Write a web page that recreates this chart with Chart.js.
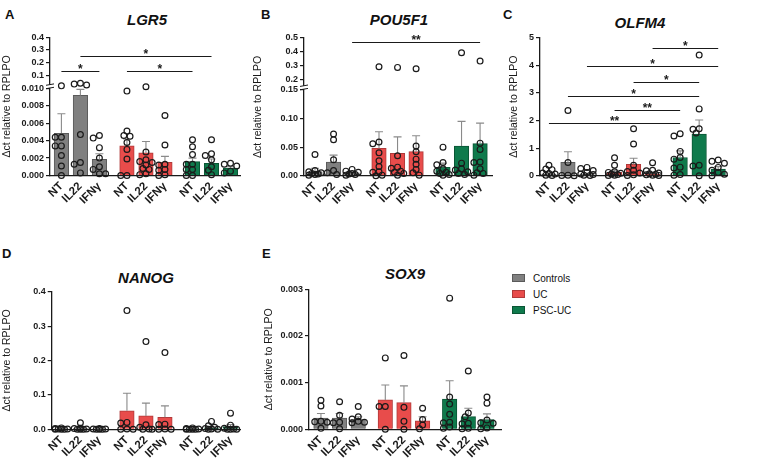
<!DOCTYPE html>
<html>
<head>
<meta charset="utf-8">
<script src="https://cdn.jsdelivr.net/npm/chart.js@4.4.1/dist/chart.umd.min.js"></script>
<style>
  body { margin: 0; background: #fff; width: 783px; height: 460px; position: relative; overflow: hidden;
         font-family: "Liberation Sans", Arial, sans-serif; color: #111; }
  canvas { position: absolute; }
  .letter { position: absolute; font-weight: bold; font-size: 13px; line-height: 1; }
  .gene { position: absolute; font-weight: bold; font-style: italic; font-size: 15px; line-height: 1;
          transform: translate(-50%, -50%); white-space: nowrap; }
  .legend { position: absolute; left: 512px; top: 270px; font-size: 10px; }
  .legend div { height: 16px; display: flex; align-items: center; }
  .legend .sw { display: inline-block; width: 13px; height: 8px; margin-right: 8px; box-sizing: border-box; }
</style>
</head>
<body>

<div class="letter" style="left:5px;top:8px">A</div>
<div class="letter" style="left:261px;top:8px">B</div>
<div class="letter" style="left:503px;top:8px">C</div>
<div class="letter" style="left:2px;top:247px">D</div>
<div class="letter" style="left:262px;top:247px">E</div>

<div class="gene" style="left:147px;top:19px">LGR5</div>
<div class="gene" style="left:399px;top:19px">POU5F1</div>
<div class="gene" style="left:640px;top:22px">OLFM4</div>
<div class="gene" style="left:146px;top:277px">NANOG</div>
<div class="gene" style="left:405px;top:273px">SOX9</div>

<div class="legend">
  <div><span class="sw" style="background:#808080;border:1px solid #5a5a5a"></span>Controls</div>
  <div><span class="sw" style="background:#e84c4b;border:1px solid #b03a3a"></span>UC</div>
  <div><span class="sw" style="background:#0f7a4c;border:1px solid #0a5534"></span>PSC-UC</div>
</div>

<canvas id="cA" width="252" height="205" style="left:0;top:25px"></canvas>
<canvas id="cB" width="250" height="205" style="left:252px;top:25px"></canvas>
<canvas id="cC" width="281" height="205" style="left:502px;top:25px"></canvas>
<canvas id="cD" width="252" height="200" style="left:0;top:260px"></canvas>
<canvas id="cE" width="258" height="200" style="left:252px;top:260px"></canvas>

<script>
// ---- data ----
const X_LABELS = ["NT", "IL22", "IFNγ", "NT", "IL22", "IFNγ", "NT", "IL22", "IFNγ"];
// x position of each bar (three groups with a gap between them)
const POS = [0, 1, 2, 3.45, 4.45, 5.45, 6.9, 7.9, 8.9];
const LEGEND = ["Controls", "UC", "PSC-UC"];
const Y_TITLE = "Δct relative to RPLPO";

// LGR5 (broken axis 0-0.010 / 0.1-0.4)
const LGR5_MEAN = [0.00485, 0.0092, 0.00185, 0.0034, 0.0026, 0.0015, 0.0016, 0.0014, 0.00085];
const LGR5_SEM_TOP = [0.0071, 0.0099, 0.0025, 0.0042, 0.0039, 0.0022, 0.0020, 0.0019, 0.0010];
const LGR5_PTS = [
  [0.0103, 0.0044, 0.0044, 0.0034, 0.0034, 0.0023, 0.0011, 0.0000],
  [0.0105, 0.0106, 0.0104, 0.0047, 0.0015, 0.0013, 0.0003],
  [0.0046, 0.0043, 0.0032, 0.0020, 0.0010, 0.0007, 0.0002, 0.0002],
  [0.0097, 0.0051, 0.0046, 0.0045, 0.0038, 0.0030, 0.0019, 0.0000, 0.0000],
  [0.0102, 0.0027, 0.0018, 0.0016, 0.0015, 0.0012, 0.0008, 0.0007, 0.0002, 0.0001],
  [0.0069, 0.0035, 0.0013, 0.0012, 0.0007, 0.0006, 0.0001, 0.0000],
  [0.0041, 0.0033, 0.0024, 0.0013, 0.0013, 0.0007, 0.0007, 0.0000, 0.0000],
  [0.0041, 0.0025, 0.0023, 0.0018, 0.0010, 0.0006, 0.0001],
  [0.0014, 0.0013, 0.0011, 0.0005, 0.0003]
];
const LGR5_TICKS = [0, 0.002, 0.004, 0.006, 0.008, 0.010, 0.1, 0.2, 0.3, 0.4];
const LGR5_TICK_LABELS = ["0.000", "0.002", "0.004", "0.006", "0.008", "0.010", "0.1", "0.2", "0.3", "0.4"];
const LGR5_SIG = [
  { from: 0, to: 2, level: 0.132, text: "*" },
  { from: 1, to: 7, level: 0.25, text: "*" },
  { from: 3, to: 6, level: 0.132, text: "*" }
];

// POU5F1 (broken axis 0-0.15 / 0.2-0.5)
const POU5F1_MEAN = [0.007, 0.024, 0.005, 0.048, 0.039, 0.042, 0.0145, 0.052, 0.056];
const POU5F1_SEM_TOP = [0.013, 0.036, 0.007, 0.077, 0.068, 0.070, 0.022, 0.095, 0.092];
const POU5F1_PTS = [
  [0.037, 0.009, 0.007, 0.005, 0.004, 0.003, 0.002, 0.001],
  [0.073, 0.063, 0.028, 0.009, 0.005, 0.002],
  [0.011, 0.008, 0.006, 0.004, 0.003, 0.002, 0.001],
  [0.295, 0.059, 0.056, 0.040, 0.026, 0.016, 0.007, 0.006, 0.001, 0.000],
  [0.290, 0.035, 0.015, 0.013, 0.008, 0.006, 0.004, 0.001],
  [0.280, 0.052, 0.042, 0.029, 0.020, 0.011, 0.005, 0.001],
  [0.050, 0.023, 0.019, 0.012, 0.008, 0.006, 0.004, 0.002, 0.001],
  [0.395, 0.022, 0.012, 0.010, 0.007, 0.004, 0.002],
  [0.335, 0.057, 0.046, 0.024, 0.023, 0.012, 0.005, 0.004, 0.001]
];
const POU5F1_TICKS = [0, 0.05, 0.10, 0.15, 0.2, 0.3, 0.4, 0.5];
const POU5F1_TICK_LABELS = ["0.00", "0.05", "0.10", "0.15", "0.2", "0.3", "0.4", "0.5"];
const POU5F1_SIG = [{ from: 2, to: 8, level: 0.469, text: "**" }];

// OLFM4
const OLFM4_MEAN = [0.06, 0.48, 0.06, 0.12, 0.41, 0.06, 0.66, 1.51, 0.24];
const OLFM4_SEM_TOP = [0.10, 0.87, 0.09, 0.20, 0.63, 0.10, 0.90, 2.02, 0.33];
const OLFM4_PTS = [
  [0.38, 0.24, 0.22, 0.10, 0.08, 0.06, 0.02, 0.01],
  [2.36, 0.48, 0.02, 0.01, 0.00],
  [0.30, 0.26, 0.19, 0.12, 0.06, 0.04, 0.02, 0.01],
  [0.65, 0.38, 0.14, 0.12, 0.09, 0.06, 0.04, 0.02, 0.01],
  [1.70, 1.15, 0.38, 0.20, 0.15, 0.10, 0.03, 0.01],
  [0.47, 0.20, 0.18, 0.10, 0.07, 0.05, 0.03, 0.02, 0.01],
  [1.52, 1.44, 0.88, 0.66, 0.60, 0.31, 0.28, 0.04, 0.02],
  [4.37, 2.42, 1.70, 1.68, 1.55, 0.38, 0.35, 0.00],
  [0.57, 0.52, 0.45, 0.30, 0.20, 0.12, 0.05, 0.00]
];
const OLFM4_TICKS = [0, 1, 2, 3, 4, 5];
const OLFM4_TICK_LABELS = ["0", "1", "2", "3", "4", "5"];
const OLFM4_SIG = [
  { from: 5, to: 8, level: 4.61, text: "*" },
  { from: 2, to: 8, level: 3.99, text: "*" },
  { from: 4, to: 7, level: 3.38, text: "*" },
  { from: 1, to: 7, level: 2.90, text: "*" },
  { from: 3, to: 6, level: 2.38, text: "**" },
  { from: 0, to: 6, level: 1.90, text: "**" }
];

// NANOG
const NANOG_MEAN = [0.001, 0.002, 0.001, 0.054, 0.039, 0.035, 0.001, 0.004, 0.008];
const NANOG_SEM_TOP = [0.002, 0.004, 0.001, 0.105, 0.076, 0.068, 0.002, 0.007, 0.014];
const NANOG_PTS = [
  [0.004, 0.002, 0.001, 0.001, 0.000, 0.000, 0.000],
  [0.019, 0.003, 0.002, 0.001, 0.000, 0.000, 0.000],
  [0.002, 0.001, 0.001, 0.000, 0.000, 0.000],
  [0.345, 0.020, 0.018, 0.001, 0.000, 0.000],
  [0.255, 0.013, 0.006, 0.001, 0.000, 0.000],
  [0.223, 0.015, 0.014, 0.001, 0.000, 0.000],
  [0.004, 0.002, 0.001, 0.000, 0.000, 0.000, 0.000],
  [0.023, 0.010, 0.006, 0.002, 0.001, 0.000, 0.000],
  [0.047, 0.012, 0.003, 0.001, 0.000, 0.000, 0.000]
];
const NANOG_TICKS = [0, 0.1, 0.2, 0.3, 0.4];
const NANOG_TICK_LABELS = ["0.0", "0.1", "0.2", "0.3", "0.4"];

// SOX9
const SOX9_MEAN = [0.00024, 0.00024, 0.00021, 0.00063, 0.00057, 0.00018, 0.00065, 0.00027, 0.00021];
const SOX9_SEM_TOP = [0.00034, 0.00034, 0.00027, 0.00095, 0.00093, 0.00027, 0.00104, 0.00045, 0.00033];
const SOX9_PTS = [
  [0.00062, 0.00050, 0.00017, 0.00016, 0.00015, 0.00002],
  [0.00059, 0.00030, 0.00015, 0.00014, 0.00001],
  [0.00049, 0.00027, 0.00022, 0.00017, 0.00015, 0.00014],
  [0.00153, 0.00049, 0.00049, 0.00000],
  [0.00158, 0.00047, 0.00017, 0.00000],
  [0.00045, 0.00021, 0.00009, 0.00001],
  [0.00281, 0.00069, 0.00054, 0.00032, 0.00015, 0.00014, 0.00005, 0.00002],
  [0.00125, 0.00035, 0.00027, 0.00013, 0.00012, 0.00002, 0.00001],
  [0.00069, 0.00056, 0.00020, 0.00014, 0.00013, 0.00003, 0.00001]
];
const SOX9_TICKS = [0, 0.001, 0.002, 0.003];
const SOX9_TICK_LABELS = ["0.000", "0.001", "0.002", "0.003"];

// ---- styling ----
const FILL = ["#808080", "#808080", "#808080", "#e84c4b", "#e84c4b", "#e84c4b", "#0f7a4c", "#0f7a4c", "#0f7a4c"];
const EDGE = ["#5a5a5a", "#5a5a5a", "#5a5a5a", "#b03a3a", "#b03a3a", "#b03a3a", "#0a5534", "#0a5534", "#0a5534"];
const INK = "#1a1a1a";
Chart.defaults.font.family = '"Liberation Sans", Arial, sans-serif';

// broken-axis mappings (value -> axis units)
const tfLGR5 = v => (v <= 0.011 ? v * 1000 : 11.53 + (v - 0.1) * 14.5);
const tfPOU5F1 = v => (v <= 0.16 ? v : 0.1675 + (v - 0.2) * 0.245);
const tfId = v => v;

// spread points of one column sideways so circles do not pile up (deterministic beeswarm)
function swarm(vals, tf, pxY, pxX) {
  const order = vals.map((v, i) => i).sort((a, b) => vals[b] - vals[a]);
  const placed = [];
  const off = new Array(vals.length).fill(0);
  const D = 4.6, step = 3.1;
  const cands = [0, -1, 1, -2, 2];
  for (const i of order) {
    const y = tf(vals[i]) * pxY;
    let best = 0, bestD = -1;
    for (const c of cands) {
      const x = c * step;
      let md = Infinity;
      for (const p of placed) md = Math.min(md, Math.hypot(p.x - x, p.y - y));
      if (md >= D) { best = c; break; }
      if (md > bestD) { bestD = md; best = c; }
    }
    placed.push({ x: best * step, y });
    off[i] = best * step / pxX;
  }
  return off;
}

function makePanel(id, g) {
  const plotW = g.right - g.left, plotH = g.bottom - g.top;
  const yMaxT = g.tf(g.yTop);
  const pxY = plotH / yMaxT, pxX = plotW / (g.xMax - g.xMin);

  const pts = [];
  g.pts.forEach((col, i) => {
    const off = swarm(col, g.tf, pxY, pxX);
    col.forEach((v, k) => pts.push({ x: POS[i] + off[k], y: g.tf(v) }));
  });

  const errPlugin = {
    id: "errbars",
    afterDatasetDraw(chart, args) {
      if (args.index !== 0) return;
      const { ctx, scales: { x, y } } = chart;
      ctx.save();
      ctx.strokeStyle = "#8a8a8a";
      ctx.lineWidth = 1.1;
      g.mean.forEach((m, i) => {
        const px = x.getPixelForValue(POS[i]);
        const y0 = y.getPixelForValue(g.tf(m)), y1 = y.getPixelForValue(g.tf(g.err[i]));
        ctx.beginPath();
        ctx.moveTo(px, y0); ctx.lineTo(px, y1);
        ctx.moveTo(px - 4, y1); ctx.lineTo(px + 4, y1);
        ctx.stroke();
      });
      ctx.restore();
    }
  };

  const extraPlugin = {
    id: "extras",
    afterDraw(chart) {
      const { ctx, scales: { x, y }, chartArea } = chart;
      ctx.save();
      // significance bars
      (g.sig || []).forEach(s => {
        const x1 = x.getPixelForValue(POS[s.from]), x2 = x.getPixelForValue(POS[s.to]);
        const yy = Math.round(y.getPixelForValue(g.tf(s.level))) + 0.5;
        ctx.strokeStyle = INK; ctx.lineWidth = 1.2;
        ctx.beginPath(); ctx.moveTo(x1, yy); ctx.lineTo(x2, yy); ctx.stroke();
        ctx.fillStyle = INK; ctx.font = 'bold 12px "Liberation Sans", Arial, sans-serif';
        ctx.textAlign = "center"; ctx.textBaseline = "alphabetic";
        ctx.fillText(s.text, (x1 + x2) / 2, yy + 1);
      });
      // axis break mark
      if (g.breakAt != null) {
        const yb = y.getPixelForValue(g.breakAt), ax = chartArea.left;
        ctx.fillStyle = "#fff";
        ctx.fillRect(ax - 2, yb - 1.6, 4, 3.2);
        ctx.strokeStyle = INK; ctx.lineWidth = 1;
        [-1.7, 1.7].forEach(d => {
          ctx.beginPath(); ctx.moveTo(ax - 4, yb + d + 0.7); ctx.lineTo(ax + 4, yb + d - 0.7); ctx.stroke();
        });
      }
      ctx.restore();
    }
  };

  return new Chart(document.getElementById(id), {
    type: "bar",
    data: {
      datasets: [
        {
          type: "bar",
          data: g.mean.map((m, i) => ({ x: POS[i], y: g.tf(m) })),
          backgroundColor: FILL, borderColor: EDGE, borderWidth: 1,
          barThickness: 14.5, order: 2
        },
        {
          type: "scatter",
          data: pts,
          pointRadius: 2.9, pointBorderWidth: 1.2,
          pointBorderColor: INK, pointBackgroundColor: "rgba(0,0,0,0)",
          order: 1, clip: false
        }
      ]
    },
    options: {
      responsive: false, animation: false, devicePixelRatio: 1,
      layout: { padding: { top: g.top - g.cTop, right: g.cLeft + g.cW - g.right, left: 0, bottom: 0 } },
      plugins: { legend: { display: false }, tooltip: { enabled: false } },
      scales: {
        x: {
          type: "linear", min: g.xMin, max: g.xMax, offset: false,
          afterBuildTicks: s => { s.ticks = POS.map(v => ({ value: v })); },
          afterFit: s => { s.height = g.cTop + g.cH - g.bottom; },
          ticks: {
            autoSkip: false, minRotation: 45, maxRotation: 45, padding: 4, color: INK,
            font: { size: 11.5, weight: "bold" },
            callback: (v, i) => X_LABELS[i]
          },
          grid: { display: false, drawTicks: false },
          border: { display: true, color: INK, width: 1.3 }
        },
        y: {
          type: "linear", min: 0, max: yMaxT,
          afterBuildTicks: s => { s.ticks = g.ticks.map(v => ({ value: g.tf(v) })); },
          afterFit: s => { s.width = g.left - g.cLeft; },
          ticks: {
            autoSkip: false, padding: 2, color: INK,
            font: { size: 9, weight: "bold" },
            callback: (v, i) => g.tickLabels[i]
          },
          grid: { display: true, drawOnChartArea: false, drawTicks: true, tickLength: 4, color: INK, tickColor: INK, lineWidth: 1.2 },
          border: { display: true, color: INK, width: 1.3 },
          title: {
            display: true, text: Y_TITLE, color: INK,
            font: { size: 10.5 }, padding: { top: g.titlePad, bottom: 0 }
          }
        }
      }
    },
    plugins: [errPlugin, extraPlugin]
  });
}

// panel geometry (page pixels): canvas box, plot area, x range
makePanel("cA", {
  cLeft: 0, cTop: 25, cW: 252, cH: 205, left: 50, right: 240, top: 37.3, bottom: 175.5,
  xMin: -0.6, xMax: 9.4, titlePad: 1, tf: tfLGR5, yTop: 0.4, breakAt: 10.25,
  mean: LGR5_MEAN, err: LGR5_SEM_TOP, pts: LGR5_PTS, ticks: LGR5_TICKS, tickLabels: LGR5_TICK_LABELS, sig: LGR5_SIG
});
makePanel("cB", {
  cLeft: 252, cTop: 25, cW: 250, cH: 205, left: 304, right: 492.7, top: 38, bottom: 175.7,
  xMin: -0.593, xMax: 9.58, titlePad: 0, tf: tfPOU5F1, yTop: 0.5, breakAt: 0.1545,
  mean: POU5F1_MEAN, err: POU5F1_SEM_TOP, pts: POU5F1_PTS, ticks: POU5F1_TICKS, tickLabels: POU5F1_TICK_LABELS, sig: POU5F1_SIG
});
makePanel("cC", {
  cLeft: 502, cTop: 25, cW: 281, cH: 205, left: 540, right: 727.7, top: 37.7, bottom: 175.7,
  xMin: -0.47, xMax: 9.4, titlePad: 5.7, tf: tfId, yTop: 5,
  mean: OLFM4_MEAN, err: OLFM4_SEM_TOP, pts: OLFM4_PTS, ticks: OLFM4_TICKS, tickLabels: OLFM4_TICK_LABELS, sig: OLFM4_SIG
});
makePanel("cD", {
  cLeft: 0, cTop: 260, cW: 252, cH: 200, left: 51.7, right: 240, top: 291.7, bottom: 429.3,
  xMin: -0.51, xMax: 9.4, titlePad: 1, tf: tfId, yTop: 0.4,
  mean: NANOG_MEAN, err: NANOG_SEM_TOP, pts: NANOG_PTS, ticks: NANOG_TICKS, tickLabels: NANOG_TICK_LABELS
});
makePanel("cE", {
  cLeft: 252, cTop: 260, cW: 258, cH: 200, left: 309, right: 501.7, top: 289.3, bottom: 429.3,
  xMin: -0.64, xMax: 9.69, titlePad: 10.7, tf: tfId, yTop: 0.003,
  mean: SOX9_MEAN, err: SOX9_SEM_TOP, pts: SOX9_PTS, ticks: SOX9_TICKS, tickLabels: SOX9_TICK_LABELS
});
</script>
</body>
</html>
